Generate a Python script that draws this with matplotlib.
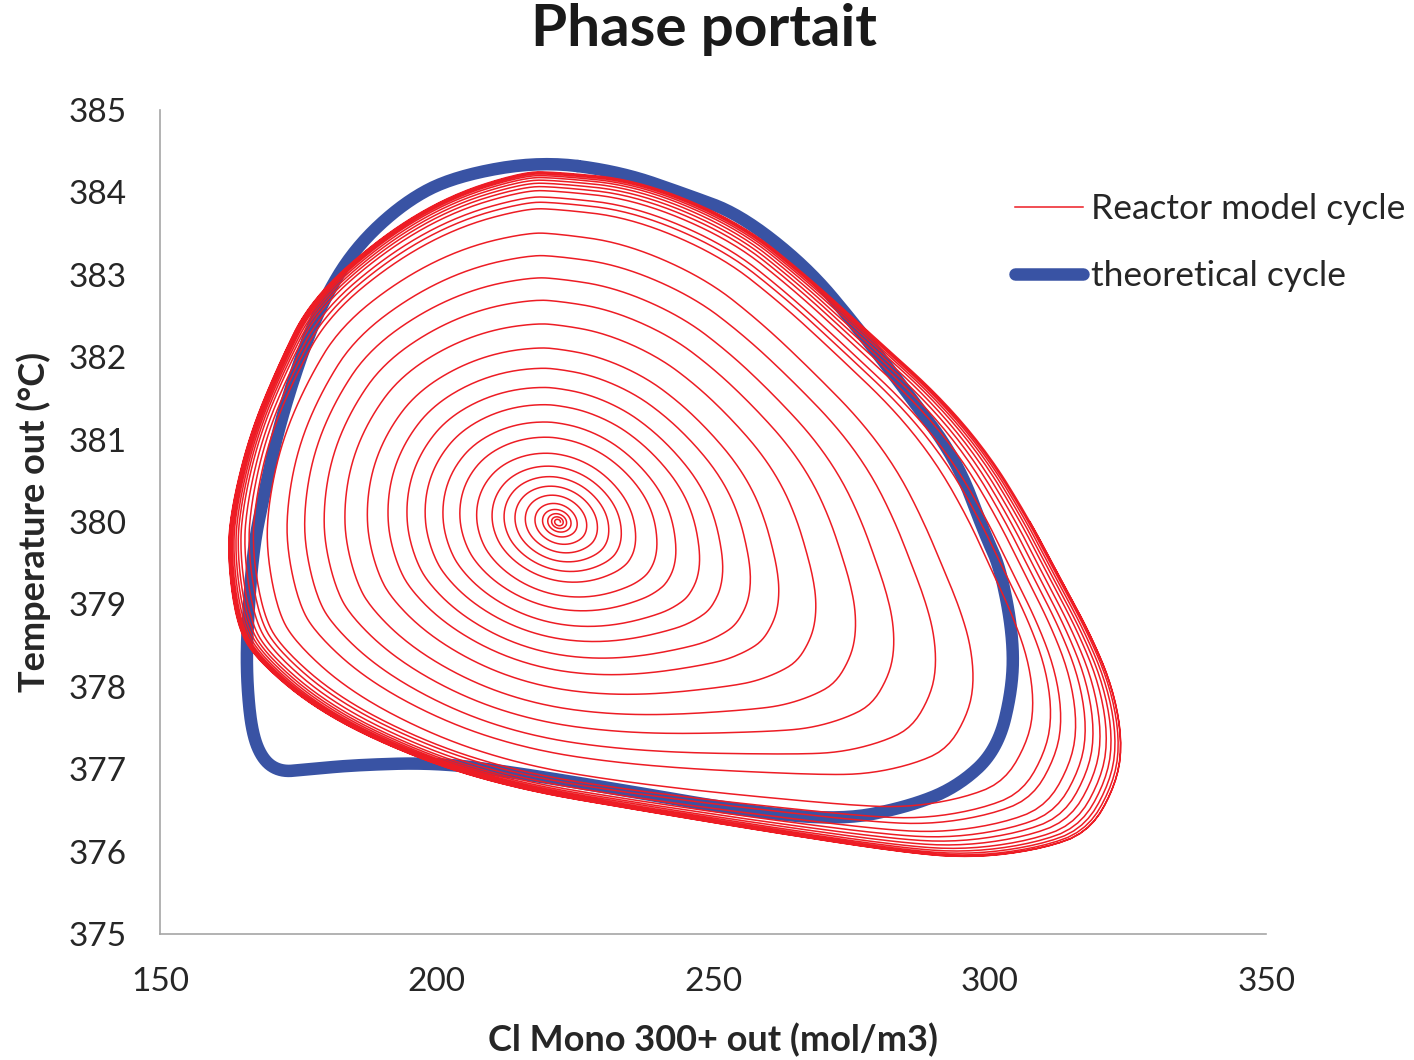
import numpy as np
import matplotlib.pyplot as plt

plt.rcParams['font.family'] = ['Lato', 'DejaVu Sans']

# steady state the reactor model spirals out of
ss_x = 222.0
ss_T = 380.0

# outer edge of the converged reactor model cycle
cycle_x = np.array([221.4, 236.8, 254.9, 267.0, 278.9, 291.0, 300.1, 307.3, 312.7, 318.2,
                    322.3, 324.1, 323.1, 318.2, 309.1, 297.0, 285.1, 260.8, 236.8, 215.1,
                    197.0, 178.9, 166.8, 163.6, 162.1, 163.2, 166.3, 171.2, 177.1, 189.8,
                    202.4, 215.6])
cycle_T = np.array([384.25, 384.15, 383.64, 382.99, 382.26, 381.53, 380.81, 380.02, 379.33, 378.65,
                    378.00, 377.35, 376.83, 376.23, 376.02, 375.92, 375.98, 376.23, 376.50, 376.75,
                    377.11, 377.68, 378.36, 378.81, 379.66, 380.27, 381.08, 381.88, 382.69, 383.46,
                    383.97, 384.25])

# where each turn of the spiral crosses T = 380 on the right-hand side
turn_x = np.array([222.4, 222.9, 223.5, 224.3, 225.4, 227.1, 229.0, 231.0, 233.2, 235.7,
                   239.4, 242.6, 246.6, 250.4, 254.9, 259.4, 265.2, 271.2, 276.8, 282.8,
                   288.0, 296.3, 298.3, 299.6, 301.6, 302.8, 303.8, 304.7, 305.5, 306.1,
                   306.6, 307.0, 307.3])

# theoretical cycle
theo_x = np.array([218.7, 233.2, 245.3, 254.9, 267.0, 276.0, 285.1, 294.1, 299.2, 301.9,
                   304.2, 304.2, 301.4, 294.1, 285.1, 273.0, 254.9, 236.8, 215.1, 200.1,
                   184.9, 175.9, 171.7, 168.6, 166.6, 165.7, 165.7, 166.8, 168.6, 171.2,
                   174.8, 178.9, 184.9, 193.9, 203.0])
theo_T = np.array([384.38, 384.25, 383.97, 383.73, 383.09, 382.37, 381.57, 380.75, 379.84, 379.45,
                   378.65, 378.00, 377.23, 376.78, 376.54, 376.38, 376.50, 376.71, 376.95, 377.08,
                   377.05, 376.99, 376.97, 377.11, 377.44, 378.05, 378.65, 379.66, 380.27, 381.08,
                   381.88, 382.61, 383.30, 383.87, 384.19])


def chaikin(x, y, n_iter=4):
    # corner cutting on a closed polygon
    for _ in range(n_iter):
        xn, yn = np.roll(x, -1), np.roll(y, -1)
        x = np.column_stack([0.75 * x + 0.25 * xn, 0.25 * x + 0.75 * xn]).ravel()
        y = np.column_stack([0.75 * y + 0.25 * yn, 0.25 * y + 0.75 * yn]).ravel()
    return x, y


fig = plt.figure(figsize=(14.14, 10.6), dpi=100)
ax = fig.add_axes([0.1132, 0.1189, 0.7822, 0.7774])
ax.set_xlim(150, 350)
ax.set_ylim(375, 385)

# stretch T so both axes share screen units when working in polar form
aspect = (0.7774 * 10.6 / 10.0) / (0.7822 * 14.14 / 200.0)

cx_s, cT_s = chaikin(cycle_x, cycle_T)
u = cx_s - ss_x
v = (cT_s - ss_T) * aspect
th = np.arctan2(v, u)
rr = np.hypot(u, v)
o = np.argsort(th)
th_s, rr_s = th[o], rr[o]


def r_cycle(t):
    return np.interp(t, th_s, rr_s, period=2 * np.pi)


def r_oval(t, b=0.8, tilt=-0.4):
    return 1.0 / np.sqrt((np.cos(t - tilt)) ** 2 + (np.sin(t - tilt) / b) ** 2)


d_turn = turn_x - ss_x
d_out = r_cycle(0.0)
n = len(d_turn)
phi = np.linspace(0, 2 * np.pi * n, 420 * n)
d = np.interp(phi, 2 * np.pi * np.arange(n), d_turn)
w = np.clip(d / d_out, 0, 1)
t = phi % (2 * np.pi)
R = d * ((1 - w) * r_oval(t) / r_oval(0.0) + w * r_cycle(t) / d_out)
spiral_x = ss_x + R * np.cos(phi)
spiral_T = ss_T + R * np.sin(phi) / aspect

tx, tT = chaikin(theo_x, theo_T)
tx, tT = np.append(tx, tx[0]), np.append(tT, tT[0])

ax.plot(spiral_x, spiral_T, color='#ED1C24', lw=1.1, zorder=3, label='Reactor model cycle')
ax.plot(tx, tT, color='#3953A4', lw=9, zorder=2, solid_capstyle='round',
        solid_joinstyle='round', label='theoretical cycle')

ax.set_xticks([150, 200, 250, 300, 350])
ax.set_yticks(np.arange(375, 386, 1))
ax.tick_params(length=0, labelsize=24, labelcolor='#262626')
ax.tick_params(axis='y', pad=24)
ax.tick_params(axis='x', pad=24)

for s in ['top', 'right']:
    ax.spines[s].set_visible(False)
for s in ['left', 'bottom']:
    ax.spines[s].set_color('#A6A6A6')
    ax.spines[s].set_linewidth(1.2)

ax.set_xlabel('Cl Mono 300+ out (mol/m3)', fontsize=26, fontweight='bold', color='#262626')
ax.set_ylabel('Temperature out (°C)', fontsize=26, fontweight='bold', color='#262626')
ax.xaxis.set_label_coords(0.5, -0.108)
ax.yaxis.set_label_coords(-0.099, 0.5)

fig.text(0.4975, 1 - 30 / 1060, 'Phase portait', ha='center', va='center',
         fontsize=42, fontweight='bold', color='#1a1a1a')

ax.legend(loc='upper left', bbox_to_anchor=(0.718, 0.818), bbox_transform=fig.transFigure,
          frameon=False, fontsize=25.5, handlelength=1.9, handletextpad=0.25,
          labelspacing=1.0, borderpad=0, borderaxespad=0, labelcolor='#262626')

fig.savefig('out.png', dpi=100)
